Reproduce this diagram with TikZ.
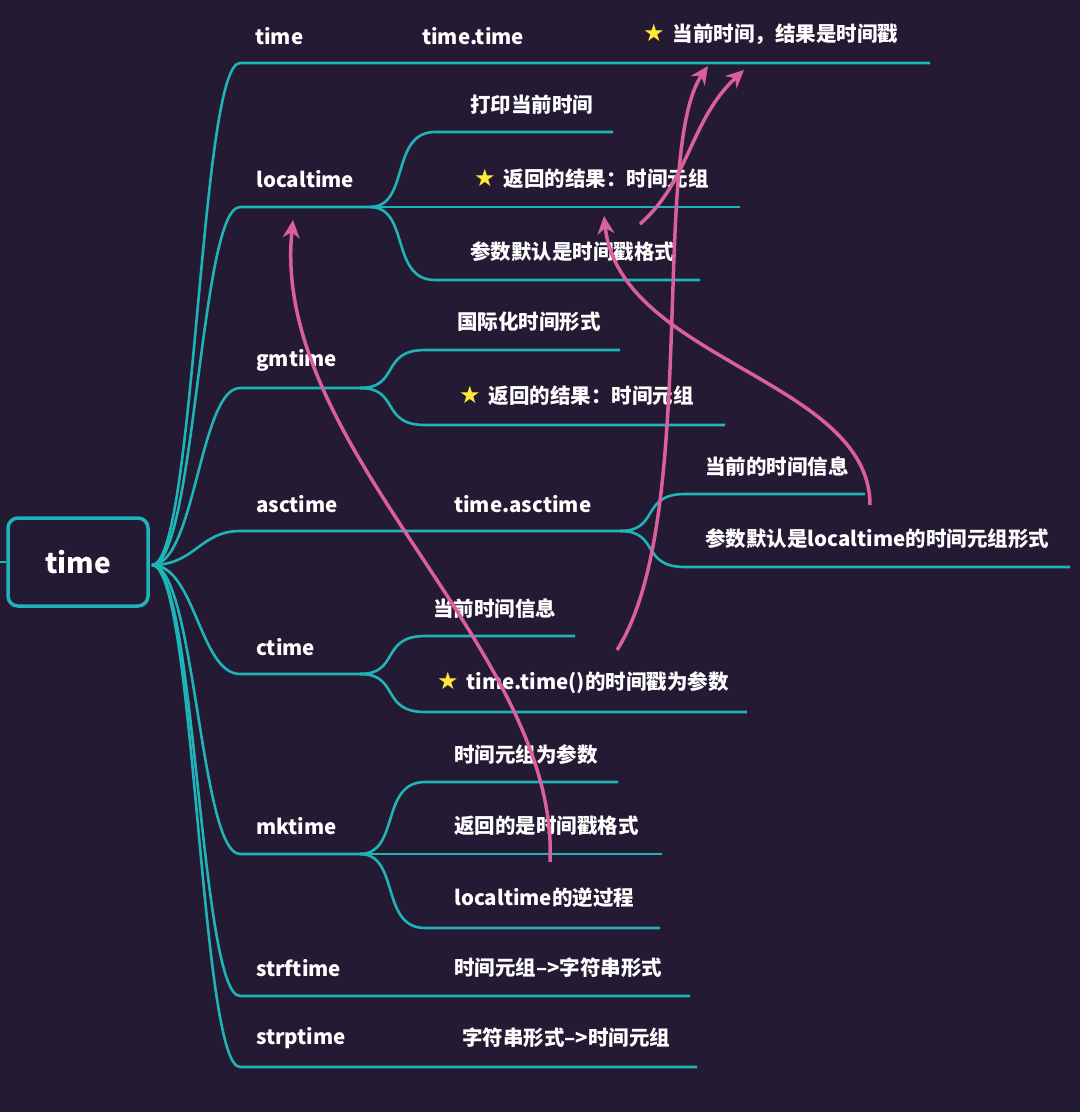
\documentclass[tikz,border=0pt]{standalone}
\usepackage{fontspec}
\usetikzlibrary{arrows.meta}
\setmainfont{Noto Sans CJK SC}
\newfontfamily\symf{DejaVu Sans}
\definecolor{bg}{HTML}{241A33}
\definecolor{teal}{HTML}{1FB5B8}
\definecolor{pink}{HTML}{D9609A}
\definecolor{staryellow}{HTML}{FFE83A}
\newcommand{\st}{{\symf\fontsize{24}{24}\selectfont\color{staryellow}★}\hspace{8pt}}
\begin{document}
\begin{tikzpicture}[x=1pt,y=-1pt,
  br/.style={draw=teal,line width=2.6pt},
  lab/.style={anchor=west,text=white,font=\fontsize{20.5}{22}\selectfont\bfseries,inner sep=0pt},
  parrow/.style={draw=pink,line width=3.5pt,-{Stealth[length=18pt,width=17pt]}}]
\fill[bg] (0,0) rectangle (1080,1112);
\useasboundingbox (0,0) rectangle (1080,1112);
\node[draw=teal,line width=3.5pt,rounded corners=10pt,minimum width=140pt,minimum height=88pt,text=white,font=\fontsize{28}{30}\selectfont\bfseries] (root) at (78,562) {time};
\draw[br] (0,562) -- (root.west);
\coordinate (o) at (152,565);
\foreach \y/\e in {63/930,207/380,388/370,531/630,674/370,854/370,996/690,1067/697}{
  \draw[br] (o) .. controls (195,565) and (200,\y) .. (240,\y) -- (\e,\y);
}
\foreach \x/\y/\yy/\e in {370/207/132/613, 370/207/207/740, 370/207/280/700,
  360/388/350/620, 360/388/425/725,
  620/531/494/865, 620/531/567/1070,
  360/674/636/575, 360/674/712/747,
  360/854/782/618, 360/854/854/662, 360/854/928/660}{
  \draw[br] (\x,\y) .. controls (\x+40,\y) and (\x+20,\yy) .. (\x+65,\yy) -- (\e,\yy);
}
\node[lab] (n1) at (255,36) {time};
\node[lab] (n1b) at (422,36) {time.time};
\node[lab] (n1c) at (643,34) {\st 当前时间，结果是时间戳};
\node[lab] (n2) at (256,179) {localtime};
\node[lab] (n2a) at (470,105) {打印当前时间};
\node[lab] (n2b) at (474,179) {\st 返回的结果：时间元组};
\node[lab] (n2c) at (470,252) {参数默认是时间戳格式};
\node[lab] (n3) at (256,360) {gmtime};
\node[lab] (n3a) at (457,322) {国际化时间形式};
\node[lab] (n3b) at (459,396) {\st 返回的结果：时间元组};
\node[lab] (n4) at (256,504) {asctime};
\node[lab] (n4b) at (454,504) {time.asctime};
\node[lab] (n4c) at (705,467) {当前的时间信息};
\node[lab] (n4d) at (705,539) {参数默认是localtime的时间元组形式};
\node[lab] (n5) at (256,647) {ctime};
\node[lab] (n5a) at (433,609) {当前时间信息};
\node[lab] (n5b) at (437,683) {\st time.time()的时间戳为参数};
\node[lab] (n6) at (256,826) {mktime};
\node[lab] (n6a) at (454,755) {时间元组为参数};
\node[lab] (n6b) at (454,826) {返回的是时间戳格式};
\node[lab] (n6c) at (454,898) {localtime的逆过程};
\node[lab] (n7) at (256,968) {strftime};
\node[lab] (n7b) at (454,968) {时间元组–>字符串形式};
\node[lab] (n8) at (256,1038) {strptime};
\node[lab] (n8b) at (462,1038) {字符串形式–>时间元组};
\coordinate (a1s) at (550,862); \coordinate (a1e) at (293,220);
\coordinate (a2s) at (617,650); \coordinate (a2e) at (708,66);
\coordinate (a3s) at (870,505); \coordinate (a3e) at (604,216);
\coordinate (a4s) at (640,224); \coordinate (a4e) at (744,70);
\draw[parrow] (a1s) .. controls (560,650) and (270,450) .. (a1e);
\draw[parrow] (a2s) .. controls (700,520) and (650,150) .. (a2e);
\draw[parrow] (a3s) .. controls (870,380) and (620,360) .. (a3e);
\draw[parrow] (a4s) .. controls (690,180) and (690,120) .. (a4e);
\end{tikzpicture}
\end{document}
